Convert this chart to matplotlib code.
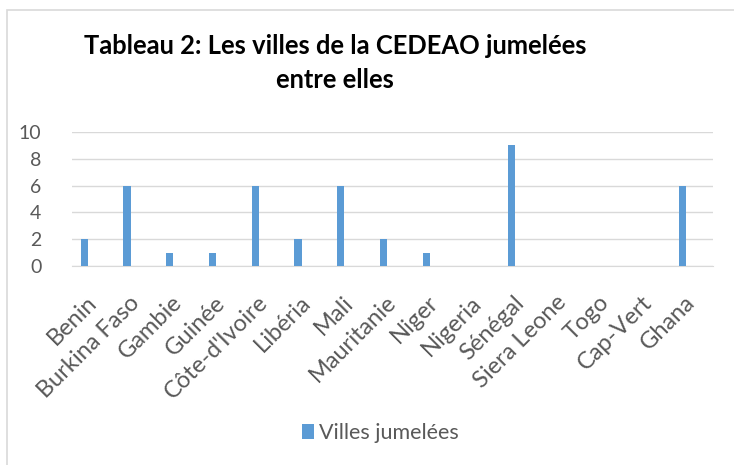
import matplotlib
matplotlib.use("Agg")
from matplotlib import pyplot as plt
from matplotlib.patches import Rectangle

# data
pays = ["Benin", "Burkina Faso", "Gambie", "Guinée", "Côte-d'Ivoire", "Libéria",
        "Mali", "Mauritanie", "Niger", "Nigeria", "Sénégal", "Siera Leone",
        "Togo", "Cap-Vert", "Ghana"]
villes = [2, 6, 1, 1, 6, 2, 6, 2, 1, 0, 9, 0, 0, 0, 6]
yticks = [0, 2, 4, 6, 8, 10]

plt.rcParams['font.family'] = ['Lato', 'DejaVu Sans']

fig = plt.figure(figsize=(7.34, 4.65), dpi=100)
W, H = 734, 465

# chart frame (light gray border like excel)
fig.patches.append(Rectangle((7 / W, -0.01), 1.0, 1 - 10 / H + 0.01, transform=fig.transFigure,
                             fill=False, edgecolor="#d9d9d9", linewidth=1.2))

ax = fig.add_axes([72 / W, 1 - 266 / H, (713 - 72) / W, (266 - 132) / H])
x = list(range(len(pays)))
# bar sits left of the category centre (other series of the sheet are empty)
ax.bar([i - 0.21 for i in x], villes, width=0.17, color="#5b9bd5",
       label="Villes jumelées", zorder=3)

ax.set_xlim(-0.5, len(pays) - 0.5)
ax.set_ylim(0, 10)
ax.set_yticks(yticks)
ax.set_xticks(x)
ax.set_xticklabels(pays, rotation=45, ha="right", va="center", rotation_mode="anchor")
ax.tick_params(axis="y", length=0, labelsize=14, colors="#595959", pad=22)
ax.tick_params(axis="x", length=0, labelsize=17, colors="#595959", pad=24)
ax.grid(axis="y", color="#d9d9d9", linewidth=1, zorder=0)
for s in ["top", "right", "left"]:
    ax.spines[s].set_visible(False)
ax.spines["bottom"].set_color("#d9d9d9")

# title, two lines
fig.text(335 / W, 1 - 54 / H, "Tableau 2: Les villes de la CEDEAO jumelées",
         ha="center", va="baseline", fontsize=18.4, fontweight="bold", color="black")
fig.text(335 / W, 1 - 88 / H, "entre elles",
         ha="center", va="baseline", fontsize=18.4, fontweight="bold", color="black")

fig.legend(loc="center", bbox_to_anchor=(380 / W, 1 - 433 / H), frameon=False,
           fontsize=15.5, labelcolor="#595959", handlelength=0.6, handleheight=0.7,
           handletextpad=0.2)

plt.savefig("out.png", dpi=100)
plt.close()
